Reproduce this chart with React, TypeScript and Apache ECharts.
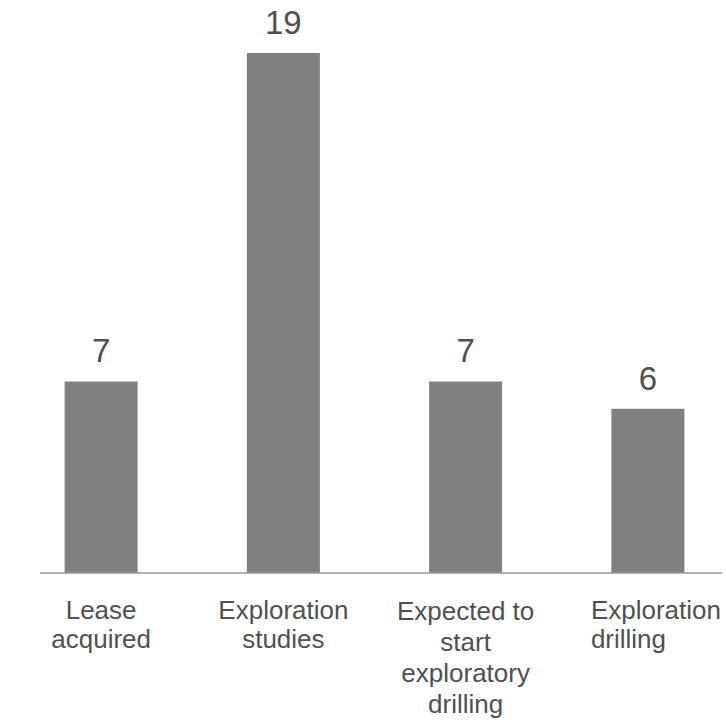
import React, { useEffect, useRef } from "react";
import * as echarts from "echarts";

const categories = [
  "Lease\nacquired",
  "Exploration\nstudies",
  "Expected to\nstart\nexploratory\ndrilling",
  "Exploration\ndrilling",
];
const counts = [7, 19, 7, 6];

const TEXT = "#505050";
const FONT = "'Liberation Sans', Arial, sans-serif";

export default function App() {
  const ref = useRef<HTMLDivElement>(null);

  useEffect(() => {
    if (!ref.current) return;
    const chart = echarts.init(ref.current, null, { renderer: "svg" });

    const base = { fontSize: 26, lineHeight: 29, color: TEXT, fontFamily: FONT };

    chart.setOption({
      animation: false,
      backgroundColor: "#ffffff",
      grid: {
        left: 10,
        right: -13,
        top: 53,
        bottom: 149,
        containLabel: false,
        outerBoundsMode: "none",
      },
      xAxis: {
        type: "category",
        data: categories,
        axisLine: { show: false },
        axisTick: { show: false },
        axisLabel: {
          interval: 0,
          margin: 22,
          formatter: (value: string, index: number) =>
            value
              .split("\n")
              .map((line) => `{s${index}|${line}}`)
              .join("\n"),
          rich: {
            s0: { ...base },
            s1: { ...base },
            s2: { ...base, lineHeight: 31 },
            // last label is left-aligned, starting a little left of the bar
            s3: { ...base, width: 140, align: "left", padding: [0, 0, 0, 26] },
          },
        },
      },
      yAxis: {
        type: "value",
        min: 0,
        max: 19,
        show: false,
        splitLine: { show: false },
      },
      series: [
        {
          type: "bar",
          data: counts,
          barWidth: 73,
          itemStyle: { color: "#808080" },
          label: {
            show: true,
            position: "top",
            distance: 14,
            fontSize: 33,
            color: TEXT,
            fontFamily: FONT,
          },
        },
      ],
      graphic: [
        {
          type: "line",
          shape: { x1: 40, y1: 573, x2: 722, y2: 573 },
          style: { stroke: "#999999", lineWidth: 1.5 },
          z: 10,
        },
      ],
    });

    return () => chart.dispose();
  }, []);

  return (
    <div
      ref={ref}
      style={{ position: "fixed", left: 0, top: 0, width: 726, height: 722 }}
    />
  );
}
